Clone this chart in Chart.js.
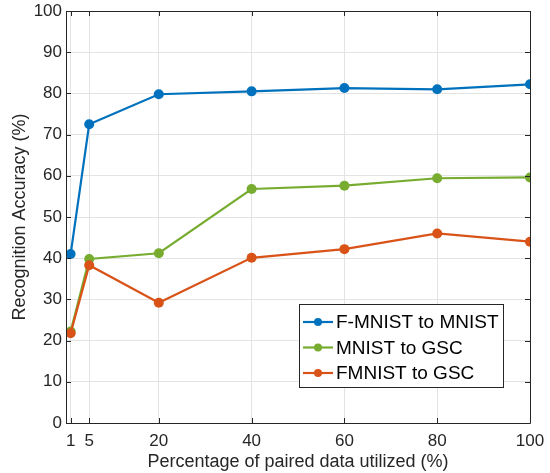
<!DOCTYPE html>
<html>
<head>
<meta charset="utf-8">
<script src="https://cdn.jsdelivr.net/npm/chart.js@4"></script>
<style>
html,body{margin:0;padding:0;background:#fff;}
#wrap{width:550px;height:473px;}
</style>
</head>
<body>
<div id="wrap"><canvas id="c" width="550" height="473"></canvas></div>
<script>
const xValues = [1, 5, 20, 40, 60, 80, 100];
const xTicks = [1, 5, 20, 40, 60, 80, 100];
const yTicks = [0, 10, 20, 30, 40, 50, 60, 70, 80, 90, 100];
const seriesNames = ["F-MNIST to MNIST", "MNIST to GSC", "FMNIST to GSC"];
const fmnistToMnist = [41.0, 72.5, 79.8, 80.5, 81.3, 81.0, 82.2];
const mnistToGsc = [22.2, 39.8, 41.2, 56.8, 57.6, 59.4, 59.6];
const fmnistToGsc = [21.8, 38.3, 29.2, 40.1, 42.2, 46.0, 44.0];
const colors = ["#0072BD", "#77AC30", "#D95319"];

const allSeries = [fmnistToMnist, mnistToGsc, fmnistToGsc];
const datasets = allSeries.map((vals, i) => ({
  label: seriesNames[i],
  data: vals.map((v, j) => ({x: xValues[j], y: v})),
  borderColor: colors[i],
  backgroundColor: colors[i],
  borderWidth: 2.2,
  pointRadius: 5,
  pointHoverRadius: 5,
  pointBorderWidth: 0,
  tension: 0
}));
datasets[0].order = 0; datasets[1].order = 2; datasets[2].order = 1;

const FONT = "'Liberation Sans', Arial, Helvetica, sans-serif";
const AX = "#262626";

const boxPlugin = {
  id: 'box',
  afterDatasetsDraw(chart) {
    const {ctx, chartArea: a, scales} = chart;
    ctx.save();
    ctx.strokeStyle = AX;
    ctx.lineWidth = 1;
    ctx.beginPath();
    ctx.rect(Math.round(a.left) + 0.5, Math.round(a.top) + 0.5, Math.round(a.right - a.left), Math.round(a.bottom - a.top));
    ctx.stroke();
    const tl = 5;
    ctx.beginPath();
    xTicks.forEach(t => {
      const px = Math.round(scales.x.getPixelForValue(t)) + 0.5;
      ctx.moveTo(px, a.bottom); ctx.lineTo(px, a.bottom - tl);
      ctx.moveTo(px, a.top); ctx.lineTo(px, a.top + tl);
    });
    yTicks.forEach(t => {
      const py = Math.round(scales.y.getPixelForValue(t)) + 0.5;
      ctx.moveTo(a.left, py); ctx.lineTo(a.left + tl, py);
      ctx.moveTo(a.right, py); ctx.lineTo(a.right - tl, py);
    });
    ctx.stroke();
    ctx.restore();
  },
  afterDraw(chart) {
    const {ctx} = chart;
    const x0 = 299, y0 = 304, w = 204, h = 83;
    ctx.save();
    ctx.fillStyle = '#fff';
    ctx.fillRect(x0, y0, w, h);
    ctx.strokeStyle = AX;
    ctx.lineWidth = 1;
    ctx.strokeRect(x0 + 0.5, y0 + 0.5, w, h);
    ctx.font = "19px " + FONT;
    ctx.textBaseline = 'middle';
    chart.data.datasets.forEach((ds, i) => {
      const cy = y0 + 18 + i * 25.5;
      ctx.strokeStyle = ds.borderColor;
      ctx.lineWidth = 2.2;
      ctx.beginPath();
      ctx.moveTo(x0 + 4, cy); ctx.lineTo(x0 + 34, cy);
      ctx.stroke();
      ctx.fillStyle = ds.borderColor;
      ctx.beginPath();
      ctx.arc(x0 + 19, cy, 4, 0, Math.PI * 2);
      ctx.fill();
      ctx.fillStyle = '#000';
      ctx.fillText(ds.label, x0 + 37, cy + 1);
    });
    ctx.restore();
  }
};

new Chart(document.getElementById('c'), {
  type: 'line',
  data: {datasets},
  plugins: [boxPlugin],
  options: {
    responsive: false,
    animation: false,
    devicePixelRatio: 1,
    layout: {padding: {top: 11, right: 20, left: 0, bottom: 0}},
    plugins: {legend: {display: false}, tooltip: {enabled: false}},
    scales: {
      x: {
        type: 'linear', min: 0, max: 100,
        afterBuildTicks: s => { s.ticks = xTicks.map(v => ({value: v})); },
        afterFit: s => { s.height = 50; s.paddingLeft = 0; s.paddingRight = 0; },
        grid: {color: '#e3e3e3', drawTicks: false, lineWidth: 1},
        border: {display: false},
        ticks: {color: AX, font: {family: FONT, size: 17}, padding: 8, maxRotation: 0, autoSkip: false},
        title: {display: true, text: 'Percentage of paired data utilized (%)', color: AX, font: {family: FONT, size: 18}, padding: {top: 0, bottom: 0}}
      },
      y: {
        type: 'linear', min: 0, max: 100,
        afterBuildTicks: s => { s.ticks = yTicks.map(v => ({value: v})); },
        afterFit: s => { s.width = 66; s.paddingTop = 0; s.paddingBottom = 0; },
        grid: {color: '#e3e3e3', drawTicks: false, lineWidth: 1},
        border: {display: false},
        ticks: {color: AX, font: {family: FONT, size: 17}, padding: 4},
        title: {display: true, text: 'Recognition Accuracy (%)', color: AX, font: {family: FONT, size: 18}, padding: {top: 9, bottom: 0}}
      }
    }
  }
});
</script>
</body>
</html>
